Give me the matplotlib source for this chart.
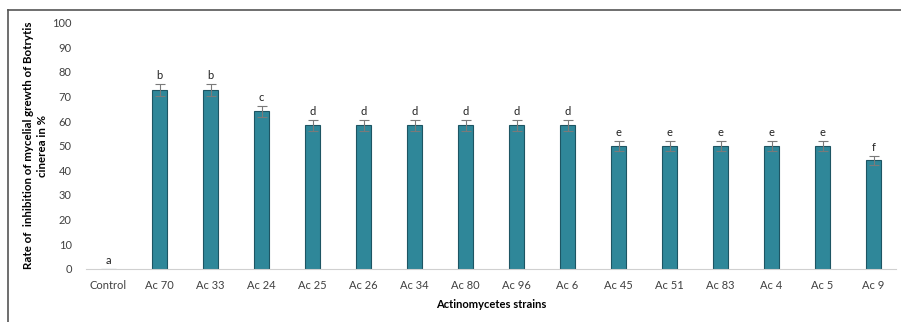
import matplotlib.pyplot as plt
from matplotlib.lines import Line2D

strains = ["Control", "Ac 70", "Ac 33", "Ac 24", "Ac 25", "Ac 26", "Ac 34", "Ac 80",
           "Ac 96", "Ac 6", "Ac 45", "Ac 51", "Ac 83", "Ac 4", "Ac 5", "Ac 9"]
inhibition = [0, 72.5, 72.5, 64, 58.3, 58.3, 58.3, 58.3, 58.3, 58.3, 50, 50, 50, 50, 50, 44]
errors = [0, 2.5, 2.5, 2.2, 2.2, 2.2, 2.2, 2.2, 2.2, 2.2, 2, 2, 2, 2, 2, 2]
groups = ["a", "b", "b", "c", "d", "d", "d", "d", "d", "d", "e", "e", "e", "e", "e", "f"]

plt.rcParams['font.family'] = ['Lato', 'DejaVu Sans']

fig = plt.figure(figsize=(9.01, 3.22), dpi=100)
ax = fig.add_axes([0.095, 0.165, 0.9, 0.765])

x = range(len(strains))
ax.bar(x, inhibition, width=0.28, color="#2f8799", edgecolor="#1d5563", linewidth=0.8)
ax.errorbar(x[1:], inhibition[1:], yerr=errors[1:], fmt="none", ecolor="#7a7a7a",
            elinewidth=0.8, capsize=3.5, capthick=0.8)

for i, (v, e, g) in enumerate(zip(inhibition, errors, groups)):
    ax.text(i, v + e + 1.2, g, ha="center", va="bottom", fontsize=8, color="#222222")

ax.set_ylim(0, 100)
ax.set_yticks(range(0, 101, 10))
ax.set_xlim(-0.45, len(strains) - 0.55)
ax.set_xticks(list(x))
ax.set_xticklabels(strains)
ax.tick_params(axis="both", length=0, labelsize=8, colors="#404040")
ax.tick_params(axis="x", pad=8)
ax.tick_params(axis="y", pad=10)
for side in ["top", "right", "left"]:
    ax.spines[side].set_visible(False)
ax.spines["bottom"].set_color("#d0d0d0")

ax.set_xlabel("Actinomycetes strains", fontsize=8, fontweight="bold", labelpad=6)
ax.set_ylabel("Rate of  inhibition of mycelial grewth of Botrytis\ncinerea in %",
              fontsize=8.3, fontweight="bold", labelpad=3, linespacing=1.3)

# frame lines along top and left edge of the figure
fig.add_artist(Line2D([0.009, 1.0], [0.968, 0.968], color="#555555", lw=1.2))
fig.add_artist(Line2D([0.009, 0.009], [0.0, 0.968], color="#555555", lw=1.2))

fig.savefig("out.png", dpi=100)
